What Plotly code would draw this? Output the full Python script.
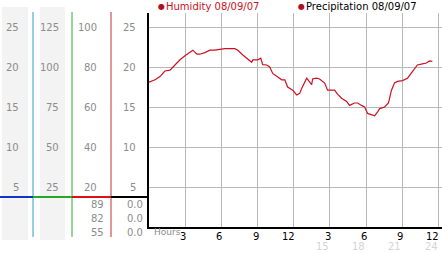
import plotly.graph_objects as go

W, H = 442, 253

# ---- data ----
hours = [0.0, 0.50, 0.91, 1.32, 1.74, 2.15, 2.57, 2.98, 3.39, 3.64, 3.97, 4.22, 4.63, 5.05, 5.46,
         5.88, 6.29, 7.12, 7.37, 7.78, 8.11, 8.52, 8.61, 9.02, 9.27, 9.43, 9.77, 10.01, 10.26,
         10.59, 11.01, 11.26, 11.50, 11.92, 12.25, 12.50, 12.66, 13.08, 13.32, 13.49, 13.57,
         13.90, 14.15, 14.57, 14.81, 15.39, 15.64, 15.97, 16.39, 16.63, 17.05, 17.30, 17.63,
         17.88, 18.13, 18.46, 18.71, 18.96, 19.13, 19.54, 19.86, 20.11, 20.36, 20.61, 21.02,
         21.44, 21.85, 22.26, 22.68, 23.01, 23.26, 23.50]
humidity = [18.1, 18.4, 18.8, 19.5, 19.6, 20.25, 20.9, 21.4, 21.9, 22.1, 21.6, 21.6, 21.8, 22.1, 22.1,
            22.2, 22.3, 22.3, 22.1, 21.5, 21.1, 20.6, 20.9, 20.9, 21.1, 20.3, 20.25, 20.0, 19.2,
            18.8, 18.4, 18.4, 17.5, 17.1, 16.5, 16.7, 17.3, 18.6, 18.2, 17.8, 18.5,
            18.6, 18.5, 18.0, 17.1, 17.1, 16.6, 16.1, 15.7, 15.2, 15.5, 15.5, 15.2,
            15.0, 14.2, 14.0, 13.9, 14.4, 14.8, 15.0, 15.5, 17.1, 18.0, 18.2, 18.3,
            18.6, 19.4, 20.25, 20.4, 20.5, 20.75, 20.7]

y_ticks = [25, 20, 15, 10, 5]
col1_labels = ["25", "20", "15", "10", "5"]
col2_labels = ["125", "100", "75", "50", "25"]
col3_labels = ["100", "80", "60", "40", "20"]
col4_labels = ["25", "20", "15", "10", "5"]
bottom_col3 = ["89", "82", "55"]
bottom_col4 = ["0.0", "0.0", "0.0"]

x_ticks = [3, 6, 9, 12, 15, 18, 21, 24]
x_tick_text = ["3", "6", "9", "12", "3", "6", "9", "12"]
x_tick_text2 = ["", "", "", "", "15", "18", "21", "24"]

legend_items = ["Humidity 08/09/07", "Precipitation 08/09/07"]

# ---- helpers (pixel -> paper) ----
def px(x):
    return x / W

def py(y):
    return 1 - y / H

FONT = "DejaVu Sans"
GRAY = "#8c8c8c"
RED = "#cc1122"
XMAX = 24.3

fig = go.Figure()

fig.add_trace(go.Scatter(x=hours, y=humidity, mode="lines",
                         line=dict(color=RED, width=1.2), hoverinfo="skip", showlegend=False))

# small tick glyphs
fig.add_trace(go.Scatter(x=[-0.28] * len(y_ticks), y=y_ticks, mode="markers",
                         marker=dict(symbol="x-thin", size=4, line=dict(width=1.2, color="#333")),
                         cliponaxis=False, showlegend=False, hoverinfo="skip"))
fig.add_trace(go.Scatter(x=[t + 0.12 for t in x_ticks], y=[-0.5] * len(x_ticks), mode="markers",
                         marker=dict(symbol="x-thin", size=4, line=dict(width=1.2, color="#333")),
                         cliponaxis=False, showlegend=False, hoverinfo="skip"))

shapes = []
# gray bands left panel
for x0, x1 in [(2, 28), (40, 65)]:
    shapes.append(dict(type="rect", xref="paper", yref="paper", x0=px(x0), x1=px(x1),
                       y0=py(240), y1=py(7), fillcolor="#f3f3f3", line=dict(width=0), layer="below"))
# vertical colored lines
for xv, col in [(33, "#2a9fc0"), (72, "#33a833"), (111, "#c43030")]:
    shapes.append(dict(type="line", xref="paper", yref="paper", x0=px(xv), x1=px(xv),
                       y0=py(237), y1=py(12), line=dict(color=col, width=1)))
# horizontal colored segmented line
for x0, x1, col in [(0, 33, "#1133cc"), (33, 72, "#22aa22"), (72, 111, "#dd1111"), (111, 149, "#000000")]:
    shapes.append(dict(type="line", xref="paper", yref="paper", x0=px(x0), x1=px(x1),
                       y0=py(197), y1=py(197), line=dict(color=col, width=2)))

annotations = []
def ann(text, x, y, xanchor="right", yref="y", color=GRAY, size=10, xref="paper"):
    annotations.append(dict(text=text, x=x, y=y, xref=xref, yref=yref, xanchor=xanchor,
                            yanchor="middle", showarrow=False,
                            font=dict(family=FONT, size=size, color=color)))

for yv, a, b, c, d in zip(y_ticks, col1_labels, col2_labels, col3_labels, col4_labels):
    ann(a, px(21), yv)
    ann(b, px(61), yv)
    ann(c, px(99), yv)
    ann(d, px(138), yv)

for yy, a, b in zip([204, 218, 232], bottom_col3, bottom_col4):
    ann(a, px(106), py(yy), yref="paper")
    ann(b, px(145), py(yy), yref="paper")

ann("Hours", px(152), py(232), xanchor="left", yref="paper", size=9)
for xv, t1, t2 in zip(x_ticks, x_tick_text, x_tick_text2):
    ann(t1, xv + 0.25, py(236), xanchor="right", yref="paper", color="#000", xref="x")
    if t2:
        ann(t2, xv + 0.1, py(246), xanchor="right", yref="paper", color="#d4d4d4", xref="x")

# legend
for (xd, name, tcol) in [(161.5, legend_items[0], RED), (301.5, legend_items[1], "#000")]:
    ann("●", px(xd), py(6.5), xanchor="center", yref="paper", color="#b0101a", size=8)
    ann(name, px(xd + 2), py(7), xanchor="left", yref="paper", color=tcol, size=10)

fig.update_layout(
    width=W, height=H, margin=dict(l=0, r=0, t=0, b=0),
    paper_bgcolor="white", plot_bgcolor="white",
    showlegend=False, shapes=shapes, annotations=annotations,
    xaxis=dict(domain=[px(149), 1], range=[0, XMAX], tickvals=x_ticks,
               showticklabels=False, showgrid=True, gridcolor="#b8b8b8", gridwidth=1,
               zeroline=False, showline=True, linecolor="#000", linewidth=2, ticks=""),
    yaxis=dict(domain=[py(227), py(13)], range=[0, 26.75], tickvals=y_ticks,
               showticklabels=False, showgrid=True, gridcolor="#b8b8b8", gridwidth=1,
               zeroline=False, showline=True, linecolor="#000", linewidth=2, ticks=""),
)

fig.write_html("out.html")
